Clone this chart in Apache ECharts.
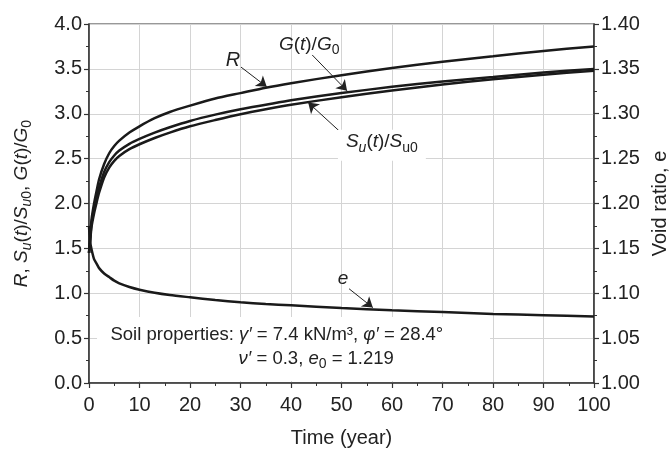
<!DOCTYPE html>
<html>
<head>
<meta charset="utf-8">
<script src="https://cdn.jsdelivr.net/npm/echarts@6.0.0/dist/echarts.min.js"></script>
<style>
html, body { margin: 0; padding: 0; background: #fff; }
#chart { width: 671px; height: 451px; }
</style>
</head>
<body>
<div id="chart"></div>
<script>
// time in years
var times   = [0,    0.2,  0.5,  1,    1.5,  2,    3,    4,    5,     6,    8,     10,   13,   16,   20,   25,   30,    35,   40,   50,    60,   70,    80,    90,    100];
// ratios
var ratioR  = [1.45, 1.60, 1.82, 2.00, 2.14, 2.27, 2.44, 2.56, 2.64,  2.70, 2.79,  2.86, 2.95, 3.02, 3.09, 3.17, 3.23,  3.29, 3.34, 3.43,  3.51, 3.58,  3.64,  3.70,  3.75];
var ratioG  = [1.45, 1.58, 1.78, 1.94, 2.07, 2.18, 2.35, 2.46, 2.535, 2.59, 2.665, 2.72, 2.79, 2.85, 2.92, 2.99, 3.05,  3.10, 3.15, 3.23,  3.30, 3.36,  3.41,  3.46,  3.50];
var ratioSu = [1.45, 1.56, 1.74, 1.89, 2.01, 2.12, 2.29, 2.40, 2.475, 2.53, 2.605, 2.66, 2.73, 2.79, 2.86, 2.93, 2.995, 3.05, 3.10, 3.185, 3.26, 3.325, 3.385, 3.435, 3.48];
// void ratio, right axis
var voidE   = [1.175, 1.158, 1.149, 1.138, 1.133, 1.128, 1.122, 1.118, 1.114, 1.111, 1.107, 1.104, 1.1005, 1.098, 1.0955, 1.0925, 1.090, 1.088, 1.0865, 1.0835, 1.081, 1.079, 1.077, 1.0755, 1.074];

var FONT = "'Liberation Sans', Arial, Helvetica, sans-serif";
var INK = '#222';

function rich(size) {
  var sub = Math.round(size * 0.75);
  var base = {fontSize: size, lineHeight: size, fontFamily: FONT, color: INK, padding: [0, 0, 3, 0], verticalAlign: 'bottom'};
  var subBase = {fontSize: sub, lineHeight: sub, fontFamily: FONT, color: INK, verticalAlign: 'bottom'};
  return {
    n: base,
    i: Object.assign({}, base, {fontStyle: 'italic'}),
    sn: subBase,
    si: Object.assign({}, subBase, {fontStyle: 'italic'})
  };
}

function pairs(ys) {
  return times.map(function (t, k) { return [t, ys[k]]; });
}

function textPoint(coord, text, size, extra) {
  var label = Object.assign({
    show: true,
    position: 'inside',
    formatter: text,
    rich: rich(size)
  }, extra || {});
  return {coord: coord, symbol: 'rect', symbolSize: 0, label: label};
}

// leader line with an arrow head at its end
function arrow(from, to) {
  return [{coord: from, symbol: 'none'}, {coord: to, symbol: 'arrow', symbolSize: 10}];
}

var chart = echarts.init(document.getElementById('chart'));

var curveStyle = {color: '#1a1a1a', width: 2.5};

var option = {
  animation: false,
  backgroundColor: '#fff',
  textStyle: {fontFamily: FONT, color: INK},
  grid: {
    left: 89, right: 77, top: 24, bottom: 68,
    containLabel: false, outerBoundsMode: 'none',
    show: true, borderColor: '#333', borderWidth: 1.2, backgroundColor: 'transparent'
  },
  xAxis: {
    type: 'value', min: 0, max: 100, interval: 10,
    name: 'Time (year)', nameLocation: 'middle', nameGap: 45,
    nameTextStyle: {fontSize: 20, color: INK, fontFamily: FONT},
    axisLine: {lineStyle: {color: '#333', width: 1.5}},
    axisTick: {length: 5, lineStyle: {color: '#333', width: 1.2}},
    minorTick: {show: true, splitNumber: 2, length: 3, lineStyle: {color: '#333', width: 1}},
    axisLabel: {fontSize: 20, color: INK, margin: 12, fontFamily: FONT},
    splitLine: {show: true, lineStyle: {color: '#d4d4d4', width: 1}}
  },
  yAxis: [{
    type: 'value', min: 0, max: 4, interval: 0.5, position: 'left',
    name: '{i|R}{n|, }{i|S}{si|u}{n|(}{i|t}{n|)/}{i|S}{si|u}{sn|0}{n|, }{i|G}{n|(}{i|t}{n|)/}{i|G}{sn|0}',
    nameLocation: 'middle', nameGap: 55, nameRotate: 90,
    nameTextStyle: {rich: rich(19)},
    axisLine: {show: true, lineStyle: {color: '#333', width: 1.5}},
    axisTick: {show: true, length: 5, lineStyle: {color: '#333', width: 1.2}},
    minorTick: {show: true, splitNumber: 2, length: 3, lineStyle: {color: '#333', width: 1}},
    axisLabel: {fontSize: 20, color: INK, margin: 7, fontFamily: FONT, formatter: function (v) { return v.toFixed(1); }},
    splitLine: {show: true, lineStyle: {color: '#d4d4d4', width: 1}}
  }, {
    type: 'value', min: 1.0, max: 1.4, interval: 0.05, position: 'right',
    name: 'Void ratio, e', nameLocation: 'middle', nameGap: 53, nameRotate: 90,
    nameTextStyle: {fontSize: 20, color: INK, fontFamily: FONT},
    axisLine: {show: true, lineStyle: {color: '#333', width: 1.5}},
    axisTick: {show: true, length: 5, lineStyle: {color: '#333', width: 1.2}},
    minorTick: {show: true, splitNumber: 2, length: 3, lineStyle: {color: '#333', width: 1}},
    axisLabel: {fontSize: 20, color: INK, margin: 7, fontFamily: FONT, formatter: function (v) { return v.toFixed(2); }},
    splitLine: {show: false}
  }],
  series: [{
    name: 'R', type: 'line', data: pairs(ratioR), showSymbol: false,
    smooth: 0.25, lineStyle: curveStyle, silent: true,
    markLine: {
      silent: true,
      label: {show: false},
      itemStyle: {color: INK},
      lineStyle: {color: INK, width: 1, type: 'solid'},
      data: [
        arrow([30.1, 3.52], [35.2, 3.30]),
        arrow([44.2, 3.655], [51.1, 3.255]),
        arrow([50.3, 2.77], [43.4, 3.125]),
        arrow([51.5, 1.05], [56.2, 0.84])
      ]
    },
    markPoint: {
      silent: true,
      data: [
        {coord: [40.5, 0.379], symbol: 'rect', symbolSize: [393, 64], itemStyle: {color: '#fff'}, label: {show: false}},
        textPoint([28.5, 3.56], '{i|R}', 20),
        textPoint([43.6, 3.74], '{i|G}{n|(}{i|t}{n|)/}{i|G}{sn|0}', 19),
        textPoint([58.0, 2.65], '{i|S}{si|u}{n|(}{i|t}{n|)/}{i|S}{sn|u0}', 19, {backgroundColor: '#fff', padding: [6, 8, 6, 8]}),
        textPoint([50.3, 1.13], '{i|e}', 19),
        textPoint([37.2, 0.50], '{n|Soil properties: }{i|γ′}{n| = 7.4 kN/m³, }{i|φ′}{n| = 28.4°}', 18.5),
        textPoint([45.0, 0.235], '{i|ν′}{n| = 0.3, }{i|e}{sn|0}{n| = 1.219}', 18.5)
      ]
    }
  }, {
    name: 'G', type: 'line', data: pairs(ratioG), showSymbol: false,
    smooth: 0.25, lineStyle: curveStyle, silent: true
  }, {
    name: 'Su', type: 'line', data: pairs(ratioSu), showSymbol: false,
    smooth: 0.25, lineStyle: curveStyle, silent: true
  }, {
    name: 'e', type: 'line', yAxisIndex: 1, data: pairs(voidE), showSymbol: false,
    smooth: 0.25, lineStyle: curveStyle, silent: true
  }]
};

chart.setOption(option);
window.addEventListener('resize', function () {
  chart.resize();
});
</script>
</body>
</html>
